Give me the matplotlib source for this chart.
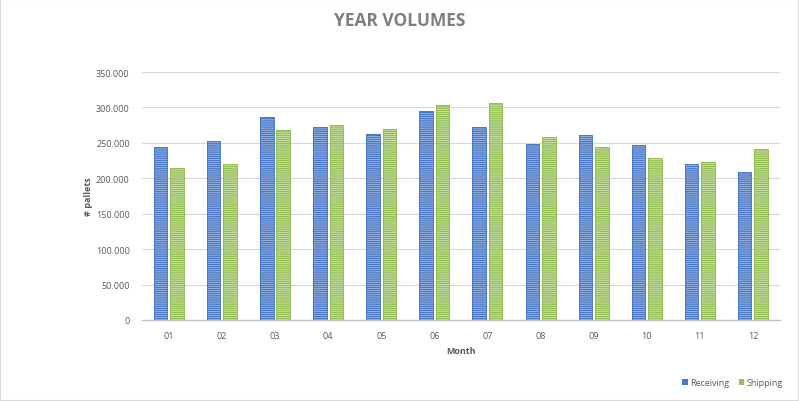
import matplotlib.pyplot as plt
from matplotlib.patches import Rectangle
from matplotlib.ticker import FuncFormatter
import numpy as np

months = ['01', '02', '03', '04', '05', '06', '07', '08', '09', '10', '11', '12']
receiving = [244000, 252000, 287000, 272000, 262000, 295000, 272000, 249000, 261000, 246500, 220000, 208500]
shipping = [214000, 220000, 268000, 275000, 270000, 303000, 306000, 258000, 244000, 228000, 222500, 241000]

blue, blue_light = '#4a78c6', '#a7bfe6'
green, green_light = '#94bf55', '#d2e6b6'
grey_text = '#595959'

plt.rcParams['hatch.linewidth'] = 0.55
plt.rcParams['font.family'] = ['Open Sans', 'DejaVu Sans']

fig = plt.figure(figsize=(7.99, 4.02), dpi=100)
ax = fig.add_axes([0.178, 0.2015, 0.7976, 0.6168])

x = np.arange(len(months))
w = 0.255
off = 0.155


def striped(xpos, vals, color, light, label):
    ax.bar(xpos, vals, w, color=color, edgecolor=light, hatch='-' * 8, linewidth=0, zorder=2)
    ax.bar(xpos, vals, w, fill=False, edgecolor=color, linewidth=0.7, zorder=3)
    # legend proxy
    ax.bar([0], [0], 0, color=color, label=label)


striped(x - off, receiving, blue, blue_light, 'Receiving')
striped(x + off, shipping, green, green_light, 'Shipping')

ax.set_xlim(-0.5, len(months) - 0.5)
ax.set_ylim(0, 350000)
ax.set_yticks(np.arange(0, 350001, 50000))
ax.yaxis.set_major_formatter(FuncFormatter(lambda v, p: '0' if v == 0 else f'{int(v):,}'.replace(',', '.')))
ax.set_xticks(x)
ax.set_xticklabels(months)

ax.grid(axis='y', color='#d9d9d9', linewidth=0.8, zorder=0)
ax.set_axisbelow(True)
for s in ['top', 'right', 'left']:
    ax.spines[s].set_visible(False)
ax.spines['bottom'].set_color('#bfbfbf')
ax.spines['bottom'].set_linewidth(1.0)
ax.tick_params(axis='both', length=0, labelsize=6.5, labelcolor=grey_text)
ax.tick_params(axis='x', pad=8)
ax.tick_params(axis='y', pad=9)

ax.set_xlabel('Month', fontsize=6.5, fontweight='bold', color=grey_text, labelpad=4)
ax.set_ylabel('# pallets', fontsize=6.5, fontweight='bold', color=grey_text, labelpad=2)

fig.text(0.5, 0.947, 'YEAR VOLUMES', ha='center', va='center', fontsize=12.5,
         fontweight='bold', color='#7f7f7f')

ax.legend(loc='lower right', bbox_to_anchor=(0.99, 0.015), bbox_transform=fig.transFigure,
          ncol=2, frameon=False, fontsize=6.5, labelcolor=grey_text,
          handlelength=0.6, handleheight=0.6, handletextpad=0.3, columnspacing=1.0)

fig.patches.append(Rectangle((0, 0), 1, 1, transform=fig.transFigure, fill=False,
                             edgecolor='#d9d9d9', linewidth=1.5))

fig.savefig('out.png', dpi=100)
